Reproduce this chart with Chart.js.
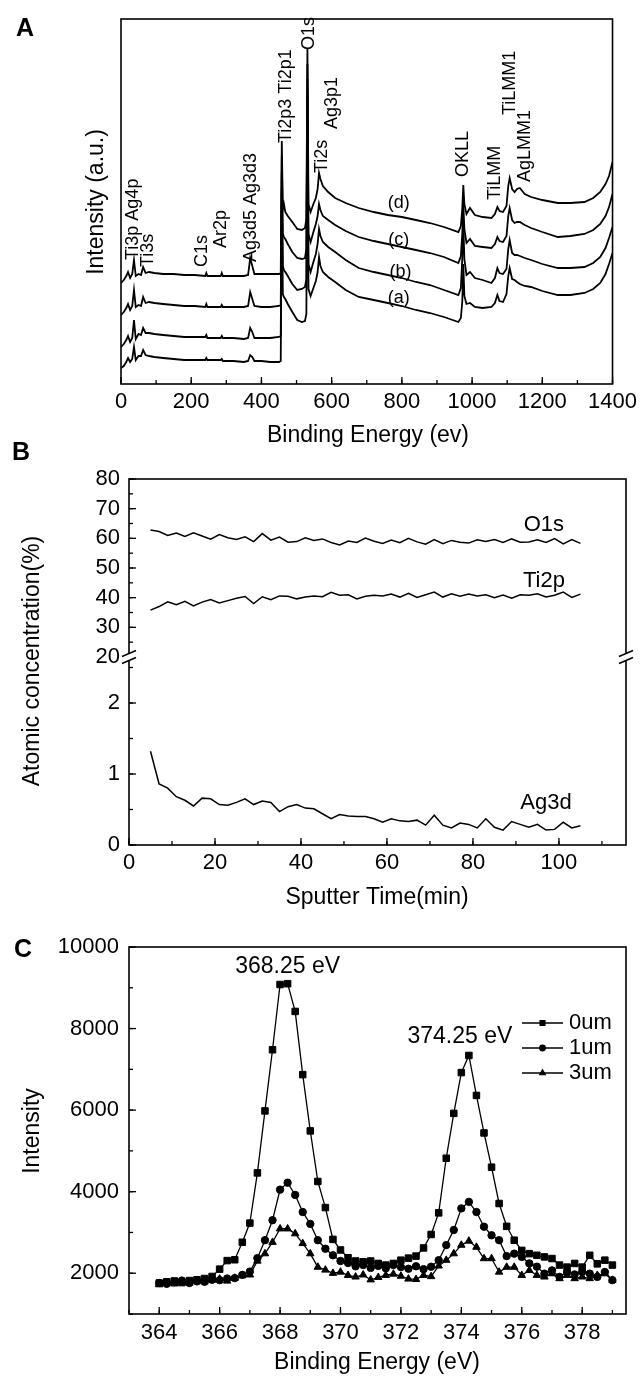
<!DOCTYPE html>
<html>
<head>
<meta charset="utf-8">
<script src="https://cdn.jsdelivr.net/npm/chart.js@4.4.1/dist/chart.umd.min.js"></script>
<style>
  html, body { margin:0; padding:0; background:#fff; }
  #fig { position:relative; width:642px; height:1378px; overflow:hidden; background:#fff; }
  #fig canvas { position:absolute; left:0; }
</style>
</head>
<body>
<div id="fig">
  <canvas id="chartA" width="642" height="450" style="top:0;width:642px;height:450px"></canvas>
  <canvas id="chartB" width="642" height="470" style="top:440px;width:642px;height:470px"></canvas>
  <canvas id="chartC" width="642" height="473" style="top:905px;width:642px;height:473px"></canvas>
</div>
<script>
// ===== XPS FIGURE — survey spectra / depth profile / Ag3d detail =====

// --- A: survey spectra, intensity in a.u. (curves stacked a..d)
const SURVEY_EV = [0,8,15,20,26,32,37,42,50,57, 63,70,80,95,120,150,180,210,240,243,
  246,270,284,287,290,320,350,362,368,374, 380,400,425,450,455,458,461,464,468,475,
  488,502,515,524,528,531,534,540,548,555, 560,564,568,575,590,610,640,677,720,760,
  800,840,880,920,961,968,972,975,978,984, 994,1008,1030,1055,1065,1072,1078,1088,1098,1103,
  1107,1114,1121,1128,1136,1150,1168,1200,1244,1280, 1320,1345,1365,1380,1390,1400];
const SURVEY_D = [101,104,108,112,106,110,124,108,110,109, 117,111,112,111,110,110,109,109,108,111,
  108,108,108,111,108,108,108,109,126,118, 110,110,110,110,111,243,175,180,172,168,
  162,155,154,156,165,336,180,172,180,186, 195,211,205,198,192,186,181,176,172,169,
  167,164,161,157,152,158,175,199,180,170, 176,169,167,166,170,177,173,172,178,198,
  206,195,192,195,196,190,187,184,181,181, 182,186,192,200,208,222];
const SURVEY_C = [69,72,76,80,74,78,94,77,79,78, 87,81,82,81,80,79,78,78,77,80,
  77,77,77,79,77,77,77,78,92,85, 78,77,77,78,79,228,150,147,145,140,
  132,126,125,126,135,320,150,142,152,160, 168,180,174,168,164,159,153,147,143,140,
  137,134,131,127,121,128,150,180,155,141, 145,138,137,136,140,147,143,142,148,168,
  176,164,161,162,162,159,156,152,147,148, 150,154,160,168,177,190];
const SURVEY_B = [37,40,44,48,42,46,64,45,50,49, 56,51,51,50,49,48,47,47,47,49,
  46,46,46,48,46,46,45,46,56,52, 46,46,46,47,48,212,118,114,112,108,
  100,94,95,97,105,305,120,112,122,130, 140,155,148,142,137,132,124,116,112,109,
  106,102,99,94,89,96,125,160,125,109, 112,106,104,101,106,116,111,110,115,135,
  144,131,129,129,128,126,124,120,116,116, 117,121,127,136,146,157];
const SURVEY_A = [16,18,22,26,22,25,37,24,28,28, 34,29,28,27,26,25,24,24,24,26,
  24,24,24,25,23,23,22,23,29,27, 23,23,22,22,23,195,90,87,85,80,
  72,64,62,63,70,290,95,88,96,103, 112,127,118,112,107,102,94,87,84,81,
  78,74,71,67,62,66,82,120,88,80, 81,77,76,77,81,89,83,82,90,108,
  116,105,104,102,100,98,97,93,89,89, 91,95,101,110,120,131];

const PEAK_NAMES = ['Ti3p Ag4p','Ti3s','C1s','Ar2p','Ag3d5 Ag3d3','Ti2p3 Ti2p1','O1s','Ti2s','Ag3p1','OKLL','TiLMM','TiLMM1','AgLMM1'];
const PEAK_EV    = [34, 76, 232, 286, 371, 470, 536, 572, 601, 975, 1065, 1108, 1150];
const PEAK_BASE  = [124, 117, 117, 136, 122, 241, 334, 211, 255, 207, 184, 269, 202];
const SAMPLE_TAGS = ['(a)','(b)','(c)','(d)'];
const SAMPLE_TAG_EV = [791, 796, 791, 791];
const SAMPLE_TAG_Y  = [86, 112, 144, 181];
const TICKS_A_X = [0,200,400,600,800,1000,1200,1400];

// --- B: depth profile, atomic concentration (%)
const SPUTTER_MIN = [5,7,9,11,13,15,17,19,21,23,25,27,29,31,33,35,37,39,41,43,45,47,49,51,53,
  55,57,59,61,63,65,67,69,71,73,75,77,79,81,83,85,87,89,91,93,95,97,99,101,103,105];
const CONC_O1S = [62.8,62.3,61.0,61.8,60.6,61.9,60.8,59.7,61.3,60.2, 59.6,60.5,58.9,61.6,59.4,60.4,58.7,58.9,60.2,59.3,
  59.8,58.6,57.8,59.1,58.6,60.1,59.0,58.3,59.4,58.5, 60.0,58.8,58.0,59.6,58.2,59.3,58.7,58.4,59.5,58.9,
  59.6,58.6,59.8,58.7,58.8,59.5,58.6,59.9,58.1,59.6,58.3];
const CONC_TI2P = [35.8,37.0,38.6,37.6,38.8,37.2,38.5,39.4,38.2,39.0, 39.8,40.4,38.0,40.3,39.3,40.6,40.5,39.6,40.2,40.6,
  40.3,41.8,40.8,41.0,39.6,40.5,40.8,40.6,41.2,40.2, 41.5,40.1,41.0,41.9,40.2,41.3,40.5,41.2,40.6,41.0,
  40.0,40.9,39.8,41.0,40.8,41.3,40.2,40.8,41.9,40.1,41.2];
const CONC_AG3D = [1.32,0.86,0.80,0.68,0.63,0.55,0.66,0.65,0.57,0.56, 0.60,0.65,0.57,0.62,0.60,0.47,0.54,0.57,0.52,0.51,
  0.44,0.37,0.43,0.41,0.40,0.40,0.37,0.32,0.37,0.34, 0.33,0.35,0.28,0.42,0.28,0.24,0.31,0.29,0.24,0.37,
  0.25,0.21,0.33,0.29,0.25,0.29,0.21,0.22,0.32,0.24,0.27];
const TICKS_B_X = [0,20,40,60,80,100];
const TICKS_B_TOP = [20,30,40,50,60,70,80];
const TICKS_B_BOT = [0,1,2];

// --- C: Ag3d high resolution, three depths
const AG_EV = [364,364.25,364.5,364.75,365,365.25,365.5,365.75,366,366.25,
  366.5,366.75,367,367.25,367.5,367.75,368,368.25,368.5,368.75,
  369,369.25,369.5,369.75,370,370.25,370.5,370.75,371,371.25,
  371.5,371.75,372,372.25,372.5,372.75,373,373.25,373.5,373.75,
  374,374.25,374.5,374.75,375,375.25,375.5,375.75,376,376.25,
  376.5,376.75,377,377.25,377.5,377.75,378,378.25,378.5,378.75,379];
const AG_0UM = [1760,1790,1810,1770,1820,1840,1870,1920,2100,2310,
  2330,2760,3230,4460,5980,7480,9080,9100,8420,6870,
  5490,4250,3610,2830,2570,2380,2300,2280,2300,2240,
  2200,2240,2320,2370,2420,2620,2950,3480,4820,5920,
  6920,7340,6360,5440,4600,3710,3150,2810,2560,2480,
  2440,2400,2360,2200,2150,2240,2150,2440,2230,2320,2200];
const AG_1UM = [1760,1740,1780,1820,1760,1800,1790,1840,1830,1870,
  1880,1960,2040,2370,2810,3300,4050,4220,3920,3500,
  3210,2810,2600,2440,2300,2250,2170,2200,2130,2180,
  2120,2200,2150,2110,2170,2100,2160,2320,2690,3060,
  3590,3750,3500,3140,2930,2810,2420,2480,2400,2240,
  2160,1990,2070,1910,2030,1970,2030,1990,1910,2030,1830];
const AG_3UM = [1720,1760,1740,1790,1760,1820,1790,1830,1860,1810,
  1880,1940,1960,2300,2480,2760,3090,3090,2970,2730,
  2480,2150,2080,2000,2030,1950,1910,1960,1840,1900,
  1950,1980,1930,1860,1850,1950,1920,2180,2320,2480,
  2690,2790,2640,2360,2360,2030,2150,2150,1950,2070,
  1950,1910,1990,1870,1950,1870,1910,1870,1950,1990,1830];
const DEPTHS = ['0um','1um','3um'];
const TICKS_C_X = [364,366,368,370,372,374,376,378];
const TICKS_C_Y = [2000,4000,6000,8000,10000];

const FONT = "'Liberation Sans', Arial, Helvetica, sans-serif";
Chart.defaults.font.family = FONT;
Chart.defaults.color = '#000';

const pts = (xs, ys) => xs.map((x, i) => ({ x: x, y: ys[i] }));
const fixedTicks = list => s => { s.ticks = list.map(v => ({ value: v })); };

// frame + inward ticks (+ optional axis break)
function frameTicks(axes, breakAxis) {
  return {
    id: 'frameTicks',
    afterDatasetsDraw(chart) {
      const { ctx, chartArea: a } = chart;
      ctx.save();
      ctx.strokeStyle = '#000';
      ctx.lineWidth = 1.6;
      ctx.strokeRect(a.left, a.top, a.right - a.left, a.bottom - a.top);
      const breakY = breakAxis ? chart.scales[breakAxis].bottom : null;
      ctx.lineWidth = 1.3;
      axes.forEach(ax => {
        const s = chart.scales[ax.id];
        [[ax.minor, 4], [ax.major, 7]].forEach(([step, len]) => {
          for (let k = Math.ceil(s.min / step - 1e-6); k * step <= s.max + 1e-6; k++) {
            const p = s.getPixelForValue(k * step);
            ctx.beginPath();
            if (s.isHorizontal()) {
              ctx.moveTo(p, a.bottom); ctx.lineTo(p, a.bottom - len);
            } else {
              if (breakY !== null && Math.abs(p - breakY) < 3) continue;
              ctx.moveTo(a.left, p); ctx.lineTo(a.left + len, p);
            }
            ctx.stroke();
          }
        });
      });
      if (breakY !== null) {
        [a.left, a.right].forEach(x => {
          ctx.fillStyle = '#fff';
          ctx.fillRect(x - 3, breakY - 4, 6, 8);
          ctx.lineWidth = 1.5;
          [-3.5, 3.5].forEach(dy => {
            ctx.beginPath();
            ctx.moveTo(x - 7, breakY + dy + 3);
            ctx.lineTo(x + 7, breakY + dy - 3);
            ctx.stroke();
          });
        });
      }
      ctx.restore();
    }
  };
}

// free text; items with xAxis/yAxis are placed through the scales
function textLayer(items) {
  return {
    id: 'textLayer',
    afterDraw(chart) {
      const ctx = chart.ctx;
      items.forEach(it => {
        const x = it.xAxis ? chart.scales[it.xAxis].getPixelForValue(it.x) : it.x;
        const y = it.yAxis ? chart.scales[it.yAxis].getPixelForValue(it.y) : it.y;
        ctx.save();
        ctx.translate(x, y);
        if (it.rot) ctx.rotate(it.rot);
        ctx.font = it.font;
        ctx.fillStyle = '#000';
        ctx.textAlign = it.align || 'center';
        ctx.textBaseline = 'middle';
        ctx.fillText(it.text, 0, 0);
        ctx.restore();
      });
    }
  };
}

const UP = -Math.PI / 2;
const base = { responsive:false, animation:false, events:[],
  plugins:{ legend:{ display:false }, tooltip:{ enabled:false } } };
const hideGrid = { display:false, drawTicks:false };
const plain = v => String(v);

// ---------- A ----------
const textA = [
  { text:'A', x:25, y:29, font:'bold 25px ' + FONT },
  { text:'Intensity (a.u.)', x:97, y:202, rot:UP, font:'23px ' + FONT },
  { text:'Binding Energy (ev)', x:368, y:436, font:'23px ' + FONT },
];
PEAK_NAMES.forEach((t, i) => textA.push({ text:t, x:PEAK_EV[i], y:PEAK_BASE[i], xAxis:'x', yAxis:'y', rot:UP, align:'left', font:'18px ' + FONT }));
SAMPLE_TAGS.forEach((t, i) => textA.push({ text:t, x:SAMPLE_TAG_EV[i], y:SAMPLE_TAG_Y[i], xAxis:'x', yAxis:'y', font:'18px ' + FONT }));

new Chart(document.getElementById('chartA'), {
  type:'line',
  data:{ datasets:[SURVEY_A, SURVEY_B, SURVEY_C, SURVEY_D].map(s => ({
    data: pts(SURVEY_EV, s), borderColor:'#000', borderWidth:1.8, pointRadius:0, tension:0 })) },
  options:{ ...base,
    layout:{ padding:{ left:121, top:19, right:27, bottom:0 } },
    scales:{
      x:{ type:'linear', min:0, max:1400, afterBuildTicks: fixedTicks(TICKS_A_X),
        ticks:{ callback:plain, font:{ size:22 }, padding:5, maxRotation:0, autoSkip:false },
        grid:hideGrid, border:{ display:false }, afterFit: s => { s.height = 66; } },
      y:{ display:false, min:0, max:365 }
    }
  },
  plugins:[ frameTicks([{ id:'x', major:200, minor:100 }]), textLayer(textA) ]
});

// ---------- B ----------
const textB = [
  { text:'B', x:21, y:13, font:'bold 25px ' + FONT },
  { text:'Atomic concentration(%)', x:33, y:221, rot:UP, font:'23px ' + FONT },
  { text:'Sputter Time(min)', x:377, y:458, font:'23px ' + FONT },
  { text:'O1s', x:96.5, y:64.6, xAxis:'x', yAxis:'yTop', font:'22px ' + FONT },
  { text:'Ti2p', x:96.5, y:45.5, xAxis:'x', yAxis:'yTop', font:'22px ' + FONT },
  { text:'Ag3d', x:97, y:0.59, xAxis:'x', yAxis:'yBot', font:'22px ' + FONT },
];
const yTick = { callback:plain, font:{ size:22 }, padding:9, autoSkip:false };

new Chart(document.getElementById('chartB'), {
  type:'line',
  data:{ datasets:[
    { data:pts(SPUTTER_MIN, CONC_O1S), yAxisID:'yTop' },
    { data:pts(SPUTTER_MIN, CONC_TI2P), yAxisID:'yTop' },
    { data:pts(SPUTTER_MIN, CONC_AG3D), yAxisID:'yBot' },
  ].map(d => ({ ...d, borderColor:'#000', borderWidth:1.5, pointRadius:0, tension:0 })) },
  options:{ ...base,
    layout:{ padding:{ left:0, top:39, right:16, bottom:0 } },
    scales:{
      x:{ type:'linear', min:0, max:115.6, afterBuildTicks: fixedTicks(TICKS_B_X),
        ticks:{ callback:plain, font:{ size:22 }, padding:5, maxRotation:0, autoSkip:false },
        grid:hideGrid, border:{ display:false }, afterFit: s => { s.height = 65; } },
      yBot:{ type:'linear', position:'left', stack:'conc', stackWeight:188, weight:1, min:0, max:2.648,
        afterBuildTicks: fixedTicks(TICKS_B_BOT), ticks:yTick,
        grid:hideGrid, border:{ display:false }, afterFit: s => { s.width = 129; } },
      yTop:{ type:'linear', position:'left', stack:'conc', stackWeight:178, weight:2, min:20, max:80,
        afterBuildTicks: fixedTicks(TICKS_B_TOP), ticks:yTick,
        grid:hideGrid, border:{ display:false }, afterFit: s => { s.width = 129; } },
    }
  },
  plugins:[ frameTicks([{ id:'x', major:20, minor:10 }, { id:'yTop', major:10, minor:5 }, { id:'yBot', major:1, minor:0.5 }], 'yTop'),
            textLayer(textB) ]
});

// ---------- C ----------
const MARKERS = [
  { pointStyle:'rect', pointRadius:4.6, legendRadius:3.4 },
  { pointStyle:'circle', pointRadius:3.7, legendRadius:2.8 },
  { pointStyle:'triangle', pointRadius:4.3, legendRadius:3.2 },
];
const textC = [
  { text:'C', x:23, y:45, font:'bold 25px ' + FONT },
  { text:'Intensity', x:33, y:226, rot:UP, font:'23px ' + FONT },
  { text:'Binding Energy (eV)', x:377, y:458, font:'23px ' + FONT },
  { text:'368.25 eV', x:368.25, y:9510, xAxis:'x', yAxis:'y', font:'23px ' + FONT },
  { text:'374.25 eV', x:373.95, y:7790, xAxis:'x', yAxis:'y', font:'23px ' + FONT },
];

const legendC = {
  id:'legendC',
  afterDraw(chart) {
    const ctx = chart.ctx;
    ctx.save();
    chart.data.datasets.forEach((ds, i) => {
      const y = 118 + i * 25;
      ctx.strokeStyle = '#000'; ctx.fillStyle = '#000'; ctx.lineWidth = 1.3;
      ctx.beginPath(); ctx.moveTo(522, y); ctx.lineTo(563, y); ctx.stroke();
      Chart.helpers.drawPoint(ctx, { pointStyle:ds.pointStyle, radius:MARKERS[i].legendRadius, borderWidth:1, rotation:0 }, 542.5, y);
      ctx.font = '22px ' + FONT; ctx.textAlign = 'left'; ctx.textBaseline = 'middle';
      ctx.fillText(ds.label, 569, y);
    });
    ctx.restore();
  }
};

new Chart(document.getElementById('chartC'), {
  type:'line',
  data:{ datasets:[AG_0UM, AG_1UM, AG_3UM].map((s, i) => ({
    label: DEPTHS[i], data: pts(AG_EV, s), borderColor:'#000', borderWidth:1.3, tension:0,
    pointStyle: MARKERS[i].pointStyle, pointRadius: MARKERS[i].pointRadius,
    pointBackgroundColor:'#000', pointBorderColor:'#000', pointBorderWidth:1 })) },
  options:{ ...base,
    layout:{ padding:{ left:0, top:42, right:16, bottom:0 } },
    scales:{
      x:{ type:'linear', min:363, max:379.45, afterBuildTicks: fixedTicks(TICKS_C_X),
        ticks:{ callback:plain, font:{ size:22 }, padding:6, maxRotation:0, autoSkip:false },
        grid:hideGrid, border:{ display:false }, afterFit: s => { s.height = 64; } },
      y:{ type:'linear', min:1000, max:10000, afterBuildTicks: fixedTicks(TICKS_C_Y),
        ticks:{ callback:plain, font:{ size:22 }, padding:10, autoSkip:false },
        grid:hideGrid, border:{ display:false }, afterFit: s => { s.width = 129; } },
    }
  },
  plugins:[ frameTicks([{ id:'x', major:2, minor:1 }, { id:'y', major:2000, minor:1000 }]), textLayer(textC), legendC ]
});
</script>
</body>
</html>
